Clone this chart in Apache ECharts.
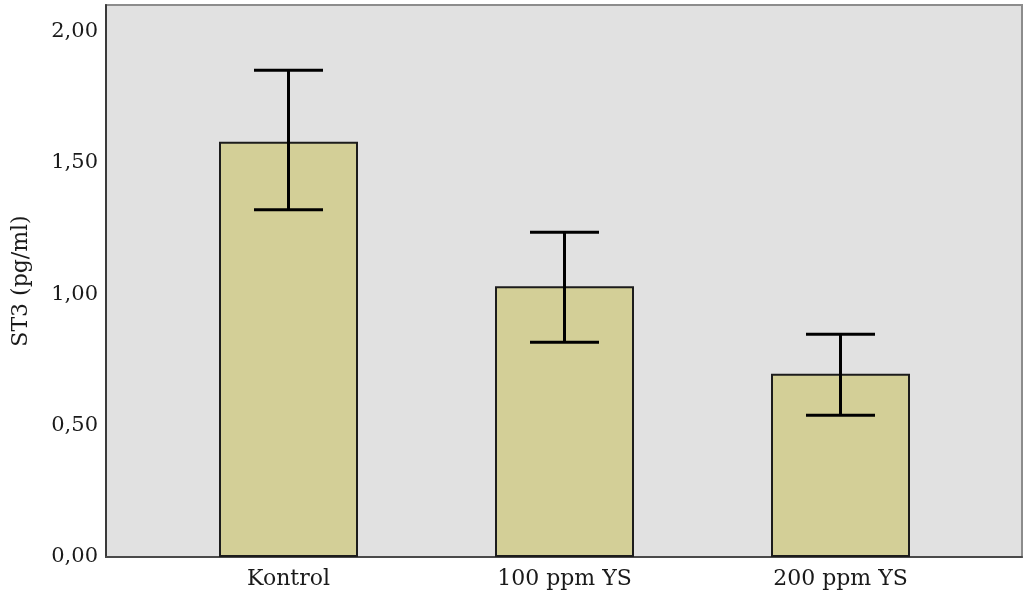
<!DOCTYPE html>
<html>
<head>
<meta charset="utf-8">
<script src="https://cdn.jsdelivr.net/npm/echarts@6/dist/echarts.min.js"></script>
<style>
html,body{margin:0;padding:0;background:#fff;}
#chart{width:1024px;height:601px;}
</style>
</head>
<body>
<div id="chart"></div>
<script>
const categories = ['Kontrol', '100 ppm YS', '200 ppm YS'];
const means = [1.58, 1.03, 0.697];
const errUpper = [1.852, 1.235, 0.847];
const errLower = [1.321, 0.817, 0.539];
const yTicks = [0, 0.5, 1.0, 1.5, 2.0];

const chart = echarts.init(document.getElementById('chart'), null, {renderer: 'canvas'});
const fontFam = '"DejaVu Serif", "Liberation Serif", serif';

const option = {
  animation: false,
  backgroundColor: '#ffffff',
  grid: [
    {left: 106, right: 2, top: 5, bottom: 44, show: true, backgroundColor: '#e1e1e1', borderColor: '#8c8c8c', borderWidth: 2},
    {left: 150.5, right: 45.5, top: 5, bottom: 44}
  ],
  xAxis: [
    {gridIndex: 0, type: 'value', min: 0, max: 1,
     axisLine: {show: true, onZero: false, lineStyle: {color: '#4a4a4a', width: 2}},
     axisTick: {show: false}, axisLabel: {show: false}, splitLine: {show: false}},
    {gridIndex: 1, type: 'category', data: categories,
     axisLine: {show: false}, axisTick: {show: false},
     axisLabel: {margin: 11, color: '#1a1a1a', fontFamily: fontFam, fontSize: 22}}
  ],
  yAxis: [
    {gridIndex: 0, type: 'value', min: 0, max: 2.1, interval: 0.5,
     name: 'ST3 (pg/ml)', nameLocation: 'middle', nameGap: 74,
     nameTextStyle: {color: '#1a1a1a', fontFamily: fontFam, fontSize: 22},
     axisLine: {show: true, lineStyle: {color: '#3a3a3a', width: 2}},
     axisTick: {show: false},
     splitLine: {show: false},
     axisLabel: {margin: 8, color: '#1a1a1a', fontFamily: fontFam, fontSize: 21,
       formatter: function (v) {
         return yTicks.some(t => Math.abs(t - v) < 1e-6) ? v.toFixed(2).replace('.', ',') : '';
       }}},
    {gridIndex: 1, type: 'value', min: 0, max: 2.1, show: false}
  ],
  series: [
    {type: 'bar', xAxisIndex: 1, yAxisIndex: 1, data: means, barWidth: 139,
     itemStyle: {color: '#d3cf97', borderColor: '#1c1c1c', borderWidth: 2}},
    {type: 'custom', xAxisIndex: 1, yAxisIndex: 1, z: 5,
     data: categories.map((c, i) => [i, errUpper[i], errLower[i]]),
     renderItem: function (params, api) {
       const x = api.value(0);
       const hi = api.coord([x, api.value(1)]);
       const lo = api.coord([x, api.value(2)]);
       const half = 34.5;
       const st = {stroke: '#000', lineWidth: 3};
       return {type: 'group', children: [
         {type: 'line', shape: {x1: hi[0], y1: hi[1], x2: lo[0], y2: lo[1]}, style: st},
         {type: 'line', shape: {x1: hi[0] - half, y1: hi[1], x2: hi[0] + half, y2: hi[1]}, style: st},
         {type: 'line', shape: {x1: lo[0] - half, y1: lo[1], x2: lo[0] + half, y2: lo[1]}, style: st}
       ]};
     }}
  ]
};
chart.setOption(option);
</script>
</body>
</html>
